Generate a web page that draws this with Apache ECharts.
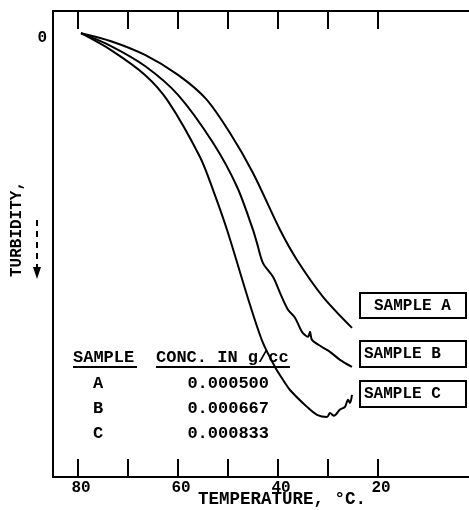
<!DOCTYPE html>
<html>
<head>
<meta charset="utf-8">
<script src="https://cdn.jsdelivr.net/npm/echarts@6/dist/echarts.min.js"></script>
<style>
html,body{margin:0;padding:0;background:#fff;}
#chart{width:469px;height:510px;}
</style>
</head>
<body>
<div id="chart"></div>
<script>
// ---- Data (temperature °C, turbidity in arbitrary units, 0 at top, downward negative) ----
const tempA = [79.4, 73.4, 66.6, 60.0, 54.4, 49.6, 45.0, 39.6, 36.2, 31.0, 25.2];
const turbA = [0, -1.8, -4.9, -9.4, -14.8, -22.5, -31.5, -44.3, -51.1, -59.4, -66.4];

const tempB = [79.4, 73.4, 66.6, 60.0, 53.0, 48.2, 45.0, 44.2, 43.0, 41.0, 39.6, 38.0, 36.6, 35.2, 34.0, 33.6, 33.2, 31.2, 29.6, 27.6, 25.2];
const turbB = [0, -2.9, -7.4, -13.9, -24.7, -34.6, -44.3, -47.3, -51.8, -54.9, -58.5, -62.3, -64.1, -67.3, -68.4, -67.3, -69.1, -70.7, -71.8, -73.6, -75.2];

const tempC = [79.4, 73.4, 66.6, 62.0, 55.6, 53.0, 50.2, 45.6, 43.0, 40.6, 39.0, 37.6, 34.2, 32.2, 30.2, 29.6, 28.8, 27.6, 26.6, 26.0, 25.6, 25.2];
const turbC = [0, -3.8, -9.4, -15.3, -27.9, -35.3, -44.3, -61.2, -69.8, -75.2, -78.1, -80.4, -84.2, -86.0, -86.5, -85.6, -86.2, -84.8, -84.2, -82.6, -83.3, -81.5];

const xTickValues = [20, 30, 40, 50, 60, 70, 80];
const xLabelValues = [20, 40, 60, 80];
const yLabelValues = [0];

const xAxisName = 'TEMPERATURE, °C.';
const yAxisName = 'TURBIDITY,';
const sampleNames = ['A', 'B', 'C'];
const sampleConc = ['0.000500', '0.000667', '0.000833'];
const tableHeaders = ['SAMPLE', 'CONC. IN g/cc'];
const boxLabels = ['SAMPLE A', 'SAMPLE B', 'SAMPLE C'];

function zip(a, b) { return a.map((v, i) => [v, b[i]]); }

const FONT = '"Liberation Mono", "DejaVu Sans Mono", monospace';
const txt = (extra) => Object.assign({ fontFamily: FONT, fontWeight: 'bold', fontSize: 16, fill: '#000' }, extra);

const chart = echarts.init(document.getElementById('chart'), null, { renderer: 'canvas' });

const lineSeries = (name, data) => ({
  name, type: 'line', data, showSymbol: false, smooth: 0.3,
  lineStyle: { color: '#000', width: 2 }, animation: false, z: 3
});

// graphic elements: table & labels
const graphics = [];
graphics.push({ type: 'text', left: 73, top: 349, style: txt({ text: tableHeaders[0], fontSize: 17 }) });
graphics.push({ type: 'text', left: 156, top: 349, style: txt({ text: tableHeaders[1], fontSize: 17 }) });
graphics.push({ type: 'line', shape: { x1: 73, y1: 367, x2: 137, y2: 367 }, style: { stroke: '#000', lineWidth: 2 } });
graphics.push({ type: 'line', shape: { x1: 156, y1: 367, x2: 290, y2: 367 }, style: { stroke: '#000', lineWidth: 2 } });
const rowY = [384, 409, 434];
sampleNames.forEach((s, i) => {
  graphics.push({ type: 'text', x: 98, y: rowY[i], style: txt({ text: s, fontSize: 17, align: 'center', verticalAlign: 'middle' }) });
  graphics.push({ type: 'text', x: 269, y: rowY[i], style: txt({ text: sampleConc[i], fontSize: 17, align: 'right', verticalAlign: 'middle' }) });
});
const boxes = [
  { y: 293, h: 25, tx: 374 },
  { y: 341, h: 26, tx: 364 },
  { y: 381, h: 26, tx: 364 }
];
boxes.forEach((b, i) => {
  graphics.push({ type: 'rect', shape: { x: 360, y: b.y, width: 106, height: b.h }, style: { fill: '#fff', stroke: '#000', lineWidth: 2 } });
  graphics.push({ type: 'text', x: b.tx, y: b.y + b.h / 2, style: txt({ text: boxLabels[i], fontSize: 16, verticalAlign: 'middle' }) });
});
graphics.push({ type: 'line', shape: { x1: 37, y1: 220, x2: 37, y2: 268 }, style: { stroke: '#000', lineWidth: 2, lineDash: [6, 5] } });
graphics.push({ type: 'polygon', shape: { points: [[33, 267], [41, 267], [37, 279]] }, style: { fill: '#000' } });

const option = {
  backgroundColor: '#fff',
  animation: false,
  grid: { left: 53, right: 0, top: 11, bottom: 33, containLabel: false, outerBoundsMode: 'none' },
  xAxis: [
    {
      type: 'value', position: 'bottom', inverse: true, min: 1.8, max: 85,
      name: xAxisName, nameLocation: 'middle', nameGap: 14, nameMoveOverlap: false,
      nameTextStyle: { fontFamily: FONT, fontWeight: 'bold', fontSize: 17.5, color: '#000', padding: [0, 0, 0, 42], verticalAlign: 'top' },
      axisLine: { show: true, onZero: false, lineStyle: { color: '#000', width: 2 } },
      axisTick: { show: true, inside: true, length: 18, customValues: xTickValues, lineStyle: { color: '#000', width: 2 } },
      axisLabel: { show: true, customValues: xLabelValues, margin: 3, padding: [0, 0, 0, 6], fontFamily: FONT, fontWeight: 'bold', fontSize: 16, color: '#000' },
      splitLine: { show: false }
    },
    {
      type: 'value', position: 'top', inverse: true, min: 1.8, max: 85,
      axisLine: { show: true, onZero: false, lineStyle: { color: '#000', width: 2 } },
      axisTick: { show: true, inside: true, length: 18, customValues: xTickValues, lineStyle: { color: '#000', width: 2 } },
      axisLabel: { show: false },
      splitLine: { show: false }
    }
  ],
  yAxis: {
    type: 'value', min: -100, max: 5,
    name: yAxisName, nameLocation: 'middle', nameGap: 28, nameRotate: 90, nameMoveOverlap: false,
    nameTextStyle: { fontFamily: FONT, fontWeight: 'bold', fontSize: 16, color: '#000', padding: [0, 0, 0, 30] },
    axisLine: { show: true, onZero: false, lineStyle: { color: '#000', width: 2 } },
    axisTick: { show: false },
    axisLabel: { show: true, customValues: yLabelValues, margin: 6, verticalAlign: 'top', lineHeight: 10, fontFamily: FONT, fontWeight: 'bold', fontSize: 16, color: '#000' },
    splitLine: { show: false }
  },
  series: [
    lineSeries('A', zip(tempA, turbA)),
    lineSeries('B', zip(tempB, turbB)),
    lineSeries('C', zip(tempC, turbC))
  ],
  graphic: graphics
};
chart.setOption(option);
</script>
</body>
</html>
